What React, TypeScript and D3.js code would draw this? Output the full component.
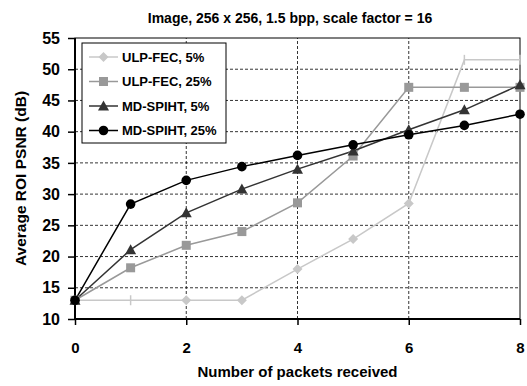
import { useEffect, useRef } from 'react';
import * as d3 from 'd3';

const packets = [0, 1, 2, 3, 4, 5, 6, 7, 8];
const ulpFec5 = [13, 13, 13, 13, 18, 22.8, 28.5, 51.5, 51.5];
const ulpFec25 = [13, 18.2, 21.8, 24, 28.6, 36.1, 47.1, 47.1, 47.1];
const mdSpiht5 = [13, 21.1, 27, 30.8, 34, 36.9, 40.3, 43.5, 47.5];
const mdSpiht25 = [13, 28.4, 32.2, 34.4, 36.2, 37.9, 39.5, 41, 42.8];
const xTicks = [0, 2, 4, 6, 8];
const yTicks = [10, 15, 20, 25, 30, 35, 40, 45, 50, 55];

const series = [
  { name: 'ULP-FEC, 5%', values: ulpFec5, color: '#c8c8c8', marker: 'diamond' },
  { name: 'ULP-FEC, 25%', values: ulpFec25, color: '#999999', marker: 'square' },
  { name: 'MD-SPIHT, 5%', values: mdSpiht5, color: '#333333', marker: 'triangle' },
  { name: 'MD-SPIHT, 25%', values: mdSpiht25, color: '#000000', marker: 'circle' },
];

function drawMarker(g, type, x, y, color, noMark = false) {
  if (noMark) {
    g.append('line').attr('x1', x).attr('x2', x).attr('y1', y - 5).attr('y2', y + 5)
      .attr('stroke', color).attr('stroke-width', 1.5);
    return;
  }
  if (type === 'diamond') {
    g.append('path').attr('d', `M${x},${y - 5}L${x + 5},${y}L${x},${y + 5}L${x - 5},${y}Z`).attr('fill', color);
  } else if (type === 'square') {
    g.append('rect').attr('x', x - 4.5).attr('y', y - 4.5).attr('width', 9).attr('height', 9).attr('fill', color);
  } else if (type === 'triangle') {
    g.append('path').attr('d', `M${x},${y - 5.5}L${x + 5.5},${y + 4.5}L${x - 5.5},${y + 4.5}Z`).attr('fill', color);
  } else {
    g.append('circle').attr('cx', x).attr('cy', y).attr('r', 4.8).attr('fill', color);
  }
}

export default function App() {
  const svgRef = useRef(null);

  useEffect(() => {
    const width = 527;
    const height = 386;
    const margin = { top: 38, right: 7, bottom: 67, left: 75 };

    const svg = d3.select(svgRef.current);
    svg.selectAll('*').remove();
    svg.attr('width', width).attr('height', height)
      .style('font-family', 'Liberation Sans, Arial, sans-serif');

    const x = d3.scaleLinear().domain([0, 8]).range([margin.left, width - margin.right]);
    const y = d3.scaleLinear().domain([10, 55]).range([height - margin.bottom, margin.top]);

    // Grid
    svg.append('g').selectAll('line').data(yTicks.slice(1, -1)).join('line')
      .attr('x1', x(0)).attr('x2', x(8)).attr('y1', d => y(d)).attr('y2', d => y(d))
      .attr('stroke', '#000').attr('stroke-dasharray', '3,2').attr('stroke-width', 0.8);
    svg.append('g').selectAll('line').data(xTicks.slice(1, -1)).join('line')
      .attr('x1', d => x(d)).attr('x2', d => x(d)).attr('y1', y(10)).attr('y2', y(55))
      .attr('stroke', '#000').attr('stroke-dasharray', '3,2').attr('stroke-width', 0.8);

    // Frame
    svg.append('rect').attr('x', x(0)).attr('y', y(55))
      .attr('width', x(8) - x(0)).attr('height', y(10) - y(55))
      .attr('fill', 'none').attr('stroke', '#000').attr('stroke-width', 1);
    svg.append('line').attr('x1', x(0)).attr('x2', x(0)).attr('y1', y(10)).attr('y2', y(55))
      .attr('stroke', '#000').attr('stroke-width', 2);
    svg.append('line').attr('x1', x(0)).attr('x2', x(8)).attr('y1', y(10)).attr('y2', y(10))
      .attr('stroke', '#000').attr('stroke-width', 2);

    // Y axis ticks
    const yAxis = svg.append('g').attr('transform', `translate(${x(0)},0)`)
      .call(d3.axisLeft(y).tickValues(yTicks).tickSize(7).tickPadding(8));
    yAxis.select('.domain').remove();
    yAxis.selectAll('line').attr('stroke-width', 1.5);
    yAxis.selectAll('text').style('font-size', '16px').style('font-weight', 'bold')
      .style('font-family', 'Liberation Sans, Arial, sans-serif');

    // X axis ticks
    const xAxis = svg.append('g').attr('transform', `translate(0,${y(10)})`)
      .call(d3.axisBottom(x).tickValues(xTicks).tickSize(6).tickPadding(17));
    xAxis.select('.domain').remove();
    xAxis.selectAll('line').attr('stroke-width', 1.5);
    xAxis.selectAll('text').style('font-size', '15px').style('font-weight', 'bold')
      .style('font-family', 'Liberation Sans, Arial, sans-serif');

    // Series
    const line = d3.line<number>().x((d, i) => x(packets[i])).y(d => y(d));
    series.forEach(s => {
      svg.append('path').datum(s.values).attr('d', line)
        .attr('fill', 'none').attr('stroke', s.color).attr('stroke-width', 1.5);
    });
    series.forEach(s => {
      const g = svg.append('g');
      s.values.forEach((v, i) => {
        const tick = s.marker === 'diamond' && (i === 1 || i === 7 || i === 8);
        drawMarker(g, s.marker, x(packets[i]), y(v), s.color, tick);
      });
    });

    // Legend
    const lg = svg.append('g').attr('transform', 'translate(82,43)');
    lg.append('rect').attr('width', 144).attr('height', 100)
      .attr('fill', '#fff').attr('stroke', '#000').attr('stroke-width', 1);
    series.forEach((s, i) => {
      const ly = 14 + i * 24.5;
      lg.append('line').attr('x1', 7).attr('x2', 36).attr('y1', ly).attr('y2', ly)
        .attr('stroke', s.color).attr('stroke-width', 1.5);
      drawMarker(lg, s.marker, 21.5, ly, s.color);
      lg.append('text').attr('x', 40).attr('y', ly + 4.5)
        .style('font-size', '13px').style('font-weight', 'bold').text(s.name);
    });

    // Title and labels
    svg.append('text').attr('x', 290).attr('y', 23).attr('text-anchor', 'middle')
      .style('font-size', '14px').style('font-weight', 'bold')
      .text('Image, 256 x 256, 1.5 bpp, scale factor = 16');
    svg.append('text').attr('x', (x(0) + x(8)) / 2).attr('y', 377).attr('text-anchor', 'middle')
      .style('font-size', '15px').style('font-weight', 'bold')
      .text('Number of packets received');
    svg.append('text').attr('transform', `translate(26,${(y(10) + y(55)) / 2}) rotate(-90)`)
      .attr('text-anchor', 'middle')
      .style('font-size', '15.5px').style('font-weight', 'bold')
      .text('Average ROI PSNR (dB)');
  }, []);

  return <svg ref={svgRef} style={{ position: 'absolute', left: 0, top: 0 }}></svg>;
}
